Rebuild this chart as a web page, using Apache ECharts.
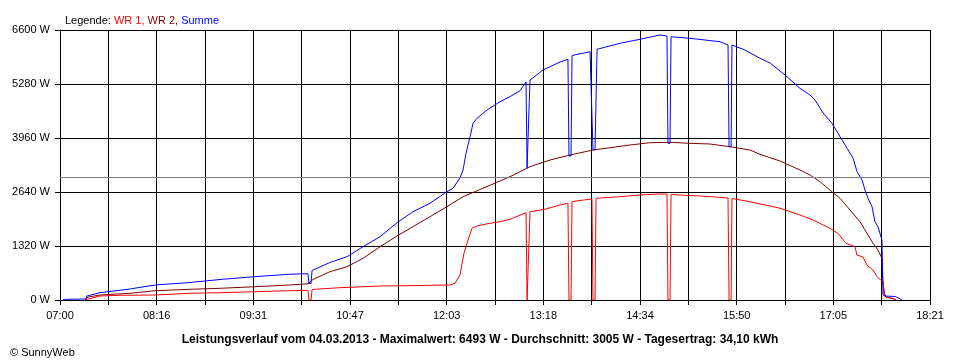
<!DOCTYPE html>
<html>
<head>
<meta charset="utf-8">
<script src="https://cdn.jsdelivr.net/npm/echarts@6/dist/echarts.min.js"></script>
<style>
html,body{margin:0;padding:0;background:#fff;}
#c{width:960px;height:360px;}
</style>
</head>
<body>
<div id="c"></div>
<script>
// time = minutes after 07:00, value = W
const xStartMin = 420;           // 07:00
const xSpanMin = 681;            // until 18:21
const yTicks = [0, 1320, 2640, 3960, 5280, 6600];
const avgW = 3005;
const titleText = 'Leistungsverlauf vom 04.03.2013 - Maximalwert: 6493 W - Durchschnitt: 3005 W - Tagesertrag: 34,10 kWh';
const seriesNames = ['WR 1', 'WR 2', 'Summe'];

const wr1 = [[19.6,0],[21.1,42],[31.3,98],[47.0,115],[74.4,122],[101.8,164],[125.2,178],[152.6,203],[180.0,227],[194.1,237],[194.9,0],[196.5,0],[197.3,257],[219.2,301],[250.5,342],[281.8,354],[305.3,367],[309.2,408],[313.1,611],[316.2,1142],[319.4,1467],[322.5,1753],[326.4,1809],[336.6,1875],[344.4,1914],[352.2,1973],[364.8,2134],[365.6,0],[367.1,0],[367.9,2158],[379.6,2217],[391.4,2322],[397.6,2364],[398.4,0],[400.0,0],[400.8,2408],[407.0,2432],[416.4,2469],[417.2,0],[418.8,0],[419.6,2486],[438.3,2525],[454.0,2567],[469.7,2591],[475.1,2591],[475.9,0],[477.5,0],[478.3,2579],[485.3,2567],[501.0,2542],[516.6,2510],[522.9,2493],[523.7,0],[525.3,0],[526.0,2481],[540.1,2403],[555.8,2298],[563.6,2242],[579.2,2078],[589.4,1956],[602.7,1753],[609.0,1630],[615.3,1386],[622.3,1303],[623.8,1100],[628.5,1051],[631.6,856],[636.3,733],[639.5,570],[644.2,440],[645.0,164],[646.6,81],[652.0,37],[654.4,0]];

const wr2 = [[19.6,0],[21.1,66],[31.3,122],[54.8,164],[74.4,227],[101.8,262],[125.2,286],[152.6,325],[180.0,367],[194.1,396],[198.0,501],[211.3,692],[224.7,814],[237.2,1019],[250.5,1303],[263.8,1564],[276.3,1792],[289.6,2036],[302.9,2281],[315.5,2525],[328.8,2701],[352.2,3014],[367.9,3258],[383.6,3422],[399.2,3544],[417.2,3667],[430.5,3723],[446.2,3789],[461.8,3845],[477.5,3855],[493.1,3830],[508.8,3813],[524.5,3747],[540.1,3667],[547.9,3561],[563.6,3398],[579.2,3178],[587.1,3056],[594.9,2892],[605.1,2623],[610.6,2486],[618.4,2200],[626.2,1914],[631.7,1630],[636.4,1386],[640.3,1222],[643.4,1019],[644.2,408],[645.8,81],[653.6,17],[654.4,0]];

const summe = [[2.3,0],[4.7,17],[20.4,24],[21.1,98],[31.3,178],[37.6,203],[53.2,262],[74.4,367],[100.2,423],[126.8,506],[152.6,570],[178.5,628],[194.1,643],[194.9,403],[196.5,403],[197.3,721],[211.3,917],[224.7,1059],[237.2,1303],[250.5,1547],[263.8,1889],[276.3,2158],[289.6,2364],[302.9,2647],[307.6,2730],[313.1,2982],[315.5,3178],[317.8,3586],[321.0,3992],[323.3,4319],[326.4,4441],[334.2,4644],[344.4,4847],[352.2,4970],[360.1,5116],[364.8,5329],[365.6,3219],[367.1,3219],[367.9,5378],[378.1,5622],[391.4,5818],[397.6,5884],[398.4,3520],[400.0,3520],[400.8,5977],[414.9,6069],[417.2,3667],[418.8,3667],[420.4,6128],[438.3,6275],[454.0,6373],[469.7,6478],[475.1,6453],[475.9,3830],[477.5,3830],[478.3,6436],[493.1,6397],[516.6,6314],[522.9,6233],[523.7,3747],[525.3,3747],[526.0,6233],[536.2,6111],[547.9,5908],[555.8,5793],[567.5,5500],[579.2,5175],[587.1,5011],[591.0,4889],[597.3,4571],[604.3,4319],[610.6,3992],[616.1,3708],[620.8,3464],[623.9,3136],[627.8,2933],[630.1,2689],[632.5,2486],[635.6,2281],[637.9,1914],[640.3,1792],[643.4,1467],[644.2,122],[645.8,98],[653.6,86],[658.3,17],[659.1,0]];

const FONT = 'Liberation Sans';
const gridStep = xSpanMin / 18;
const labelStep = xSpanMin / 9;

function clock(v) {
  const total = Math.round(xStartMin + v);
  const h = Math.floor(total / 60), m = total % 60;
  return (h < 10 ? '0' : '') + h + ':' + (m < 10 ? '0' : '') + m;
}

const chart = echarts.init(document.getElementById('c'), null, {renderer: 'canvas'});
chart.setOption({
  animation: false,
  backgroundColor: '#ffffff',
  title: [
    {
      left: 60, top: 10,
      text: '{k|Legende: }{a|WR 1, }{b|WR 2, }{c|Summe}',
      textStyle: {
        fontWeight: 'normal',
        rich: {
          k: {color: '#000000', fontFamily: FONT, fontSize: 11, fontWeight: 'normal'},
          a: {color: '#ff0000', fontFamily: FONT, fontSize: 11, fontWeight: 'normal'},
          b: {color: '#800000', fontFamily: FONT, fontSize: 11, fontWeight: 'normal'},
          c: {color: '#0000ff', fontFamily: FONT, fontSize: 11, fontWeight: 'normal'}
        }
      }
    },
    {
      left: 'center', top: 329,
      text: titleText,
      textStyle: {color: '#000', fontFamily: FONT, fontSize: 12, fontWeight: 'bold'}
    },
    {
      left: 5, top: 342,
      text: '\u00a9 SunnyWeb',
      textStyle: {color: '#000', fontFamily: FONT, fontSize: 11, fontWeight: 'normal'}
    }
  ],
  grid: {left: 60, right: 30, top: 30, bottom: 60, containLabel: false},
  xAxis: {
    type: 'value', min: 0, max: xSpanMin, interval: gridStep,
    axisLine: {show: true, lineStyle: {color: '#000', width: 1}},
    axisTick: {show: true, length: 5, lineStyle: {color: '#000'}},
    splitLine: {show: true, lineStyle: {color: '#000', width: 1}},
    axisLabel: {
      show: true, margin: 10, color: '#000', fontFamily: FONT, fontSize: 11,
      showMinLabel: true, showMaxLabel: true, hideOverlap: false,
      formatter: function (v) {
        const r = v / labelStep;
        return Math.abs(r - Math.round(r)) < 0.01 ? clock(v) : '';
      }
    }
  },
  yAxis: {
    type: 'value', min: yTicks[0], max: yTicks[yTicks.length - 1], interval: yTicks[1] - yTicks[0],
    axisLine: {show: true, lineStyle: {color: '#000', width: 1}},
    axisTick: {show: true, length: 5, lineStyle: {color: '#000'}},
    splitLine: {show: true, lineStyle: {color: '#000', width: 1}},
    axisLabel: {
      margin: 10, color: '#000', fontFamily: FONT, fontSize: 11,
      formatter: function (v) { return Math.round(v) + ' W'; }
    }
  },
  series: [
    {
      name: seriesNames[1], type: 'line', data: wr2, showSymbol: false, symbol: 'none',
      lineStyle: {color: '#800000', width: 1}, itemStyle: {color: '#800000'},
      markLine: {
        silent: true, symbol: 'none', label: {show: false},
        lineStyle: {color: '#808080', type: 'solid', width: 1},
        data: [{yAxis: avgW}]
      }
    },
    {
      name: seriesNames[0], type: 'line', data: wr1, showSymbol: false, symbol: 'none',
      lineStyle: {color: '#ff0000', width: 1}, itemStyle: {color: '#ff0000'}
    },
    {
      name: seriesNames[2], type: 'line', data: summe, showSymbol: false, symbol: 'none',
      lineStyle: {color: '#0000ff', width: 1}, itemStyle: {color: '#0000ff'}
    }
  ]
});
</script>
</body>
</html>
